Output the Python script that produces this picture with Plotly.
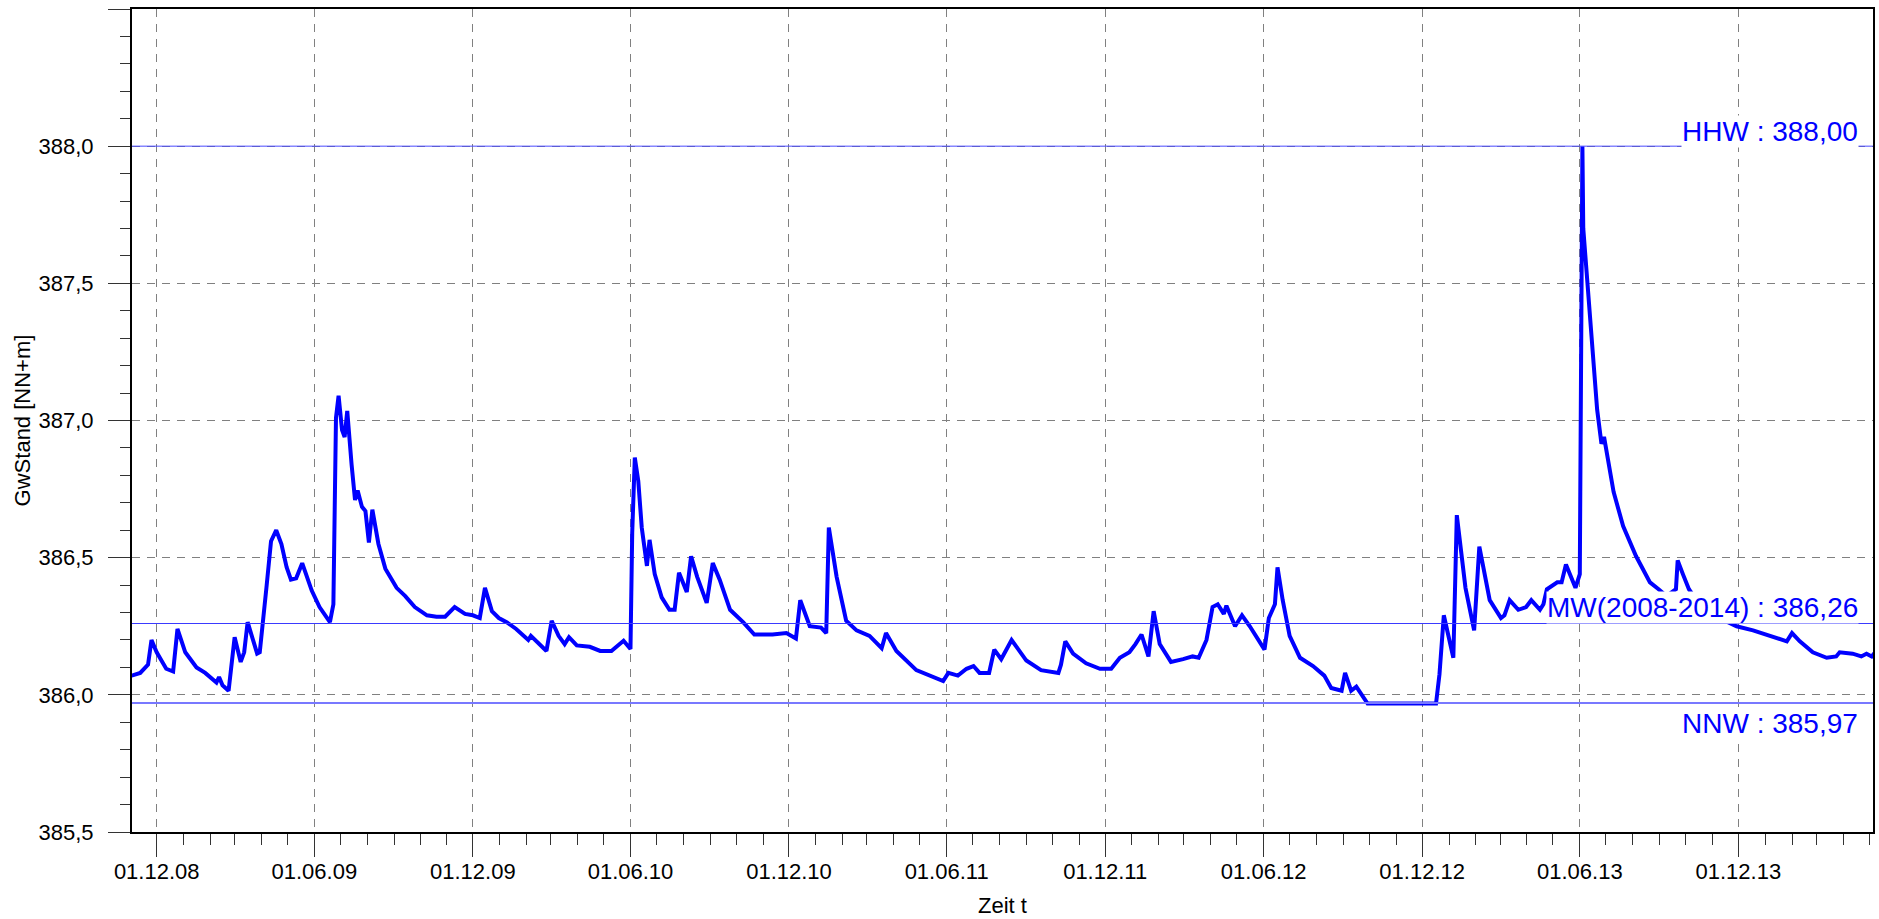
import plotly.graph_objects as go

# ---- data ----
dates = [
    "2008-11-02", "2008-11-12", "2008-11-21", "2008-11-25", "2008-12-01", "2008-12-12", "2008-12-20", "2008-12-25",
    "2009-01-03", "2009-01-16", "2009-01-26", "2009-02-08", "2009-02-11", "2009-02-15", "2009-02-22", "2009-02-25",
    "2009-03-01", "2009-03-08", "2009-03-12", "2009-03-16", "2009-03-27", "2009-03-30", "2009-04-03", "2009-04-07",
    "2009-04-12", "2009-04-18", "2009-04-24", "2009-04-30", "2009-05-05", "2009-05-11", "2009-05-18", "2009-05-29",
    "2009-06-07", "2009-06-19", "2009-06-23", "2009-06-26", "2009-06-29", "2009-07-03", "2009-07-06", "2009-07-09",
    "2009-07-14", "2009-07-18", "2009-07-21", "2009-07-26", "2009-07-30", "2009-08-03", "2009-08-07", "2009-08-14",
    "2009-08-22", "2009-09-04", "2009-09-14", "2009-09-25", "2009-10-09", "2009-10-20", "2009-10-30", "2009-11-10",
    "2009-11-22", "2009-12-01", "2009-12-09", "2009-12-15", "2009-12-23", "2009-12-31", "2010-01-09", "2010-01-20",
    "2010-02-03", "2010-02-06", "2010-02-24", "2010-03-02", "2010-03-10", "2010-03-17", "2010-03-22", "2010-03-31",
    "2010-04-15", "2010-04-27", "2010-05-10", "2010-05-20", "2010-05-24", "2010-06-01", "2010-06-03", "2010-06-06",
    "2010-06-10", "2010-06-14", "2010-06-20", "2010-06-23", "2010-06-29", "2010-07-07", "2010-07-16", "2010-07-22",
    "2010-07-27", "2010-08-05", "2010-08-10", "2010-08-17", "2010-08-28", "2010-09-04", "2010-09-12", "2010-09-24",
    "2010-10-09", "2010-10-22", "2010-11-12", "2010-11-28", "2010-12-09", "2010-12-14", "2010-12-25", "2011-01-07",
    "2011-01-13", "2011-01-16", "2011-01-25", "2011-02-05", "2011-02-17", "2011-03-04", "2011-03-18", "2011-03-23",
    "2011-04-04", "2011-04-27", "2011-05-16", "2011-05-28", "2011-06-03", "2011-06-14", "2011-06-24", "2011-07-02",
    "2011-07-09", "2011-07-20", "2011-07-26", "2011-08-03", "2011-08-15", "2011-09-01", "2011-09-18", "2011-10-08",
    "2011-10-11", "2011-10-16", "2011-10-25", "2011-11-09", "2011-11-25", "2011-12-08", "2011-12-18", "2011-12-29",
    "2012-01-05", "2012-01-12", "2012-01-20", "2012-01-26", "2012-02-02", "2012-02-15", "2012-02-29", "2012-03-11",
    "2012-03-18", "2012-03-27", "2012-04-03", "2012-04-09", "2012-04-16", "2012-04-19", "2012-04-29", "2012-05-07",
    "2012-05-16", "2012-05-25", "2012-06-02", "2012-06-07", "2012-06-14", "2012-06-17", "2012-06-23", "2012-07-01",
    "2012-07-13", "2012-07-28", "2012-08-10", "2012-08-18", "2012-08-30", "2012-09-03", "2012-09-10", "2012-09-16",
    "2012-09-29", "2012-12-17", "2012-12-21", "2012-12-26", "2013-01-06", "2013-01-10", "2013-01-20", "2013-01-30",
    "2013-02-05", "2013-02-17", "2013-03-02", "2013-03-06", "2013-03-12", "2013-03-22", "2013-03-31", "2013-04-06",
    "2013-04-16", "2013-04-20", "2013-04-24", "2013-05-06", "2013-05-11", "2013-05-16", "2013-05-27", "2013-06-01",
    "2013-06-04", "2013-06-05", "2013-06-13", "2013-06-21", "2013-06-26", "2013-06-29", "2013-07-10", "2013-07-21",
    "2013-08-05", "2013-08-21", "2013-08-31", "2013-09-09", "2013-09-20", "2013-09-22", "2013-09-28", "2013-10-05",
    "2013-10-17", "2013-11-04", "2013-11-19", "2013-11-29", "2013-12-18", "2014-01-14", "2014-01-26", "2014-02-01",
    "2014-02-10", "2014-02-25", "2014-03-13", "2014-03-24", "2014-03-28", "2014-04-12", "2014-04-22", "2014-04-28",
    "2014-05-04", "2014-05-08",
]
gw_stand = [
    386.07, 386.08, 386.11, 386.20, 386.155, 386.095, 386.085, 386.24,
    386.155, 386.10, 386.08, 386.045, 386.065, 386.035, 386.015, 386.115,
    386.21, 386.12, 386.155, 386.265, 386.15, 386.155, 386.295, 386.40,
    386.56, 386.60, 386.55, 386.465, 386.42, 386.425, 386.48, 386.38,
    386.32, 386.265, 386.33, 387.01, 387.09, 386.965, 386.94, 387.035,
    386.84, 386.71, 386.745, 386.685, 386.67, 386.555, 386.675, 386.55,
    386.46, 386.39, 386.36, 386.32, 386.29, 386.285, 386.285, 386.32,
    386.295, 386.29, 386.28, 386.39, 386.305, 386.28, 386.265, 386.24,
    386.20, 386.215, 386.16, 386.27, 386.215, 386.185, 386.21, 386.18,
    386.175, 386.16, 386.16, 386.185, 386.197, 386.167, 386.59, 386.865,
    386.78, 386.61, 386.47, 386.565, 386.44, 386.355, 386.31, 386.31,
    386.445, 386.375, 386.505, 386.43, 386.335, 386.48, 386.42, 386.31,
    386.265, 386.22, 386.22, 386.225, 386.205, 386.345, 386.25, 386.245,
    386.225, 386.61, 386.43, 386.27, 386.235, 386.215, 386.17, 386.225,
    386.16, 386.09, 386.065, 386.05, 386.08, 386.07, 386.095, 386.105,
    386.08, 386.08, 386.165, 386.13, 386.20, 386.125, 386.09, 386.08,
    386.11, 386.195, 386.15, 386.115, 386.095, 386.095, 386.135, 386.155,
    386.185, 386.22, 386.14, 386.305, 386.185, 386.12, 386.13, 386.14,
    386.135, 386.20, 386.32, 386.33, 386.295, 386.325, 386.25, 386.29,
    386.25, 386.205, 386.165, 386.28, 386.33, 386.465, 386.345, 386.215,
    386.135, 386.105, 386.07, 386.025, 386.015, 386.08, 386.015, 386.03,
    385.968, 385.968, 386.075, 386.29, 386.135, 386.655, 386.39, 386.235,
    386.54, 386.345, 386.28, 386.29, 386.345, 386.31, 386.32, 386.345,
    386.31, 386.33, 386.385, 386.41, 386.41, 386.475, 386.39, 386.44,
    388.00, 387.70, 387.355, 387.04, 386.915, 386.94, 386.74, 386.615,
    386.505, 386.41, 386.385, 386.36, 386.385, 386.49, 386.44, 386.385,
    386.33, 386.29, 386.265, 386.25, 386.235, 386.205, 386.195, 386.225,
    386.195, 386.155, 386.135, 386.14, 386.155, 386.15, 386.14, 386.15,
    386.14, 386.155,
]

hhw_value = 388.00
mw_value = 386.26
nnw_value = 385.97
hhw_label = "HHW : 388,00"
mw_label = "MW(2008-2014) : 386,26"
nnw_label = "NNW : 385,97"

x_range = ["2008-11-02 12:00", "2014-05-05 12:00"]
y_range = [385.5, 388.5]

FONT = "Liberation Sans, Arial, sans-serif"

fig = go.Figure()

fig.add_trace(go.Scatter(
    x=dates, y=gw_stand, mode="lines",
    line=dict(color="#0000ff", width=4),
    showlegend=False, hoverinfo="x+y",
))

# reference lines
fig.add_shape(type="line", xref="paper", x0=0, x1=1, yref="y", y0=hhw_value, y1=hhw_value,
              line=dict(color="#4a4aff", width=1), layer="above")
fig.add_shape(type="line", xref="paper", x0=0, x1=1, yref="y", y0=mw_value, y1=mw_value,
              line=dict(color="#3a3aff", width=1), layer="above")
fig.add_shape(type="line", xref="paper", x0=0, x1=1, yref="y", y0=nnw_value, y1=nnw_value,
              line=dict(color="#7878ff", width=2), layer="above")

ann_font = dict(family=FONT, size=28, color="#0000ff")
fig.add_annotation(text=hhw_label, xref="paper", x=1, xanchor="right", xshift=-14,
                   yref="y", y=hhw_value, yanchor="bottom", yshift=-2,
                   showarrow=False, font=ann_font, bgcolor="white", borderpad=0)
fig.add_annotation(text=mw_label, xref="paper", x=1, xanchor="right", xshift=-14,
                   yref="y", y=mw_value, yanchor="bottom", yshift=0,
                   showarrow=False, font=ann_font, bgcolor="white", borderpad=0)
fig.add_annotation(text=nnw_label, xref="paper", x=1, xanchor="right", xshift=-14,
                   yref="y", y=nnw_value, yanchor="top", yshift=-4,
                   showarrow=False, font=ann_font, bgcolor="white", borderpad=0)

tick_font = dict(family=FONT, size=22, color="black")

fig.update_xaxes(
    type="date", range=x_range,
    tick0="2008-12-01", dtick="M6", tickformat="%d.%m.%y",
    ticks="outside", ticklen=23, tickwidth=1, tickcolor="#333333",
    tickfont=tick_font, ticklabelstandoff=-4,
    showgrid=True, gridcolor="#808080", gridwidth=1, griddash="8px,7px",
    showline=True, linecolor="black", linewidth=2, mirror=True,
    zeroline=False,
    minor=dict(tick0="2008-12-01", dtick="M1", ticks="outside", ticklen=11,
               tickwidth=1, tickcolor="#333333", showgrid=False),
    title=dict(text="Zeit t", font=dict(family=FONT, size=22, color="black"), standoff=14),
)
fig.update_yaxes(
    range=y_range, tick0=385.5, dtick=0.5, tickformat=".1f",
    ticks="outside", ticklen=22, tickwidth=1, tickcolor="#333333",
    tickfont=tick_font, ticklabelstandoff=10,
    showgrid=True, gridcolor="#808080", gridwidth=1, griddash="8px,7px",
    showline=True, linecolor="black", linewidth=2, mirror=True,
    zeroline=False,
    minor=dict(tick0=385.5, dtick=0.1, ticks="outside", ticklen=10,
               tickwidth=1, tickcolor="#333333", showgrid=False),
    title=dict(text="GwStand [NN+m]", font=dict(family=FONT, size=22, color="black"), standoff=2),
)

fig.update_layout(
    width=1879, height=919,
    margin=dict(l=132, r=6, t=9, b=87, autoexpand=False),
    paper_bgcolor="white", plot_bgcolor="white",
    separators=",.",
    font=dict(family=FONT),
    showlegend=False,
)

fig.write_html(
    "out.html",
    config={"displayModeBar": False},
    post_script="document.body.style.margin='0';document.body.style.overflow='hidden';",
)
